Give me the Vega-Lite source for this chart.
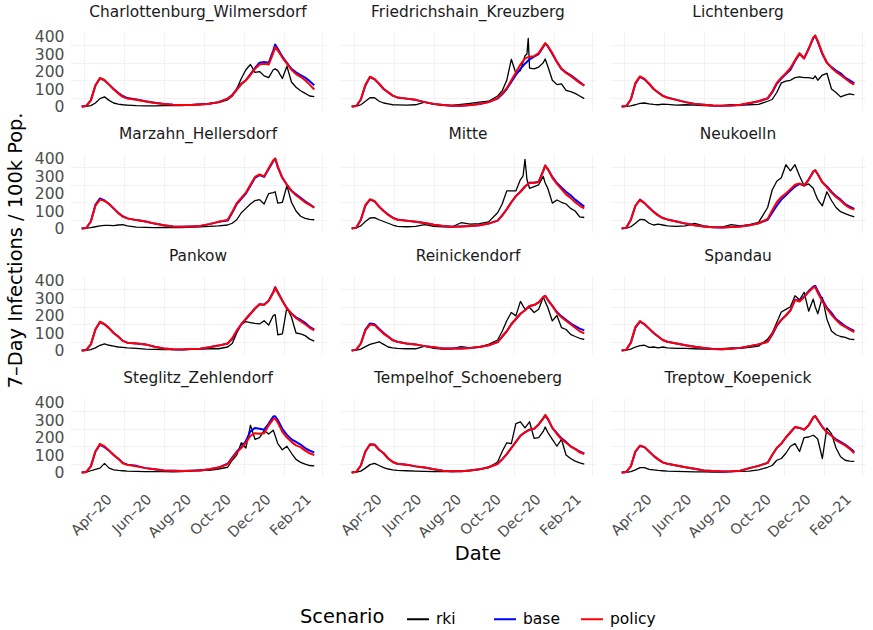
{
  "$schema": "https://vega.github.io/schema/vega-lite/v6.json",
  "background": "white",
  "padding": {"left": 5, "top": 5, "right": 0, "bottom": 5},
  "config": {
    "font": "DejaVu Sans",
    "view": {"stroke": null},
    "axis": {
      "domain": false,
      "ticks": false,
      "labelColor": "#4D4D4D",
      "labelFontSize": 15.6,
      "labelFont": "DejaVu Sans",
      "gridColor": "#EBEBEB",
      "labelOverlap": false
    },
    "header": {
      "labelFontSize": 15.4,
      "labelColor": "#1A1A1A",
      "labelFont": "DejaVu Sans",
      "labelPadding": 11.5
    },
    "title": {"fontSize": 19.4, "fontWeight": "normal", "color": "#000000", "font": "DejaVu Sans"},
    "legend": {
      "titleFontSize": 19.4,
      "titleFontWeight": "normal",
      "titleColor": "#000000",
      "titleFont": "DejaVu Sans",
      "labelFontSize": 15.5,
      "labelColor": "#000000",
      "labelFont": "DejaVu Sans",
      "symbolType": "stroke",
      "symbolStrokeWidth": 2,
      "symbolSize": 484,
      "labelOffset": 6,
      "padding": 0
    }
  },
  "data": {"values": [
    {"district":"Charlottenburg_Wilmersdorf","date":"2020-02-26","rki":0,"base":0,"policy":0},
    {"district":"Charlottenburg_Wilmersdorf","date":"2020-03-04","rki":1,"base":3,"policy":3},
    {"district":"Charlottenburg_Wilmersdorf","date":"2020-03-11","rki":5,"base":35,"policy":35},
    {"district":"Charlottenburg_Wilmersdorf","date":"2020-03-18","rki":20,"base":120,"policy":120},
    {"district":"Charlottenburg_Wilmersdorf","date":"2020-03-25","rki":45,"base":162,"policy":163},
    {"district":"Charlottenburg_Wilmersdorf","date":"2020-04-01","rki":55,"base":150,"policy":150},
    {"district":"Charlottenburg_Wilmersdorf","date":"2020-04-08","rki":35,"base":125,"policy":125},
    {"district":"Charlottenburg_Wilmersdorf","date":"2020-04-15","rki":20,"base":100,"policy":98},
    {"district":"Charlottenburg_Wilmersdorf","date":"2020-04-22","rki":14,"base":78,"policy":75},
    {"district":"Charlottenburg_Wilmersdorf","date":"2020-04-29","rki":10,"base":60,"policy":55},
    {"district":"Charlottenburg_Wilmersdorf","date":"2020-05-06","rki":8,"base":48,"policy":45},
    {"district":"Charlottenburg_Wilmersdorf","date":"2020-05-20","rki":5,"base":40,"policy":38},
    {"district":"Charlottenburg_Wilmersdorf","date":"2020-06-03","rki":4,"base":30,"policy":28},
    {"district":"Charlottenburg_Wilmersdorf","date":"2020-06-17","rki":4,"base":22,"policy":20},
    {"district":"Charlottenburg_Wilmersdorf","date":"2020-07-01","rki":5,"base":15,"policy":14},
    {"district":"Charlottenburg_Wilmersdorf","date":"2020-07-15","rki":6,"base":10,"policy":10},
    {"district":"Charlottenburg_Wilmersdorf","date":"2020-07-29","rki":5,"base":8,"policy":8},
    {"district":"Charlottenburg_Wilmersdorf","date":"2020-08-12","rki":10,"base":9,"policy":9},
    {"district":"Charlottenburg_Wilmersdorf","date":"2020-08-26","rki":14,"base":12,"policy":12},
    {"district":"Charlottenburg_Wilmersdorf","date":"2020-09-09","rki":18,"base":16,"policy":16},
    {"district":"Charlottenburg_Wilmersdorf","date":"2020-09-23","rki":22,"base":25,"policy":25},
    {"district":"Charlottenburg_Wilmersdorf","date":"2020-10-07","rki":38,"base":45,"policy":45},
    {"district":"Charlottenburg_Wilmersdorf","date":"2020-10-14","rki":60,"base":65,"policy":62},
    {"district":"Charlottenburg_Wilmersdorf","date":"2020-10-21","rki":100,"base":100,"policy":95},
    {"district":"Charlottenburg_Wilmersdorf","date":"2020-10-28","rki":160,"base":130,"policy":128},
    {"district":"Charlottenburg_Wilmersdorf","date":"2020-11-04","rki":210,"base":150,"policy":150},
    {"district":"Charlottenburg_Wilmersdorf","date":"2020-11-11","rki":240,"base":185,"policy":180},
    {"district":"Charlottenburg_Wilmersdorf","date":"2020-11-18","rki":195,"base":220,"policy":215},
    {"district":"Charlottenburg_Wilmersdorf","date":"2020-11-25","rki":200,"base":250,"policy":240},
    {"district":"Charlottenburg_Wilmersdorf","date":"2020-12-02","rki":175,"base":255,"policy":245},
    {"district":"Charlottenburg_Wilmersdorf","date":"2020-12-09","rki":165,"base":250,"policy":240},
    {"district":"Charlottenburg_Wilmersdorf","date":"2020-12-16","rki":210,"base":320,"policy":305},
    {"district":"Charlottenburg_Wilmersdorf","date":"2020-12-19","rki":215,"base":355,"policy":340},
    {"district":"Charlottenburg_Wilmersdorf","date":"2020-12-23","rki":205,"base":330,"policy":320},
    {"district":"Charlottenburg_Wilmersdorf","date":"2020-12-30","rki":160,"base":285,"policy":280},
    {"district":"Charlottenburg_Wilmersdorf","date":"2021-01-06","rki":230,"base":250,"policy":245},
    {"district":"Charlottenburg_Wilmersdorf","date":"2021-01-13","rki":140,"base":215,"policy":210},
    {"district":"Charlottenburg_Wilmersdorf","date":"2021-01-20","rki":110,"base":195,"policy":185},
    {"district":"Charlottenburg_Wilmersdorf","date":"2021-01-27","rki":90,"base":180,"policy":170},
    {"district":"Charlottenburg_Wilmersdorf","date":"2021-02-03","rki":75,"base":165,"policy":150},
    {"district":"Charlottenburg_Wilmersdorf","date":"2021-02-10","rki":60,"base":145,"policy":125},
    {"district":"Charlottenburg_Wilmersdorf","date":"2021-02-17","rki":57,"base":122,"policy":97},

    {"district":"Friedrichshain_Kreuzberg","date":"2020-02-26","rki":0,"base":0,"policy":0},
    {"district":"Friedrichshain_Kreuzberg","date":"2020-03-04","rki":2,"base":3,"policy":3},
    {"district":"Friedrichshain_Kreuzberg","date":"2020-03-11","rki":10,"base":40,"policy":40},
    {"district":"Friedrichshain_Kreuzberg","date":"2020-03-18","rki":30,"base":120,"policy":125},
    {"district":"Friedrichshain_Kreuzberg","date":"2020-03-25","rki":50,"base":168,"policy":170},
    {"district":"Friedrichshain_Kreuzberg","date":"2020-04-01","rki":50,"base":155,"policy":158},
    {"district":"Friedrichshain_Kreuzberg","date":"2020-04-08","rki":30,"base":130,"policy":130},
    {"district":"Friedrichshain_Kreuzberg","date":"2020-04-15","rki":20,"base":100,"policy":100},
    {"district":"Friedrichshain_Kreuzberg","date":"2020-04-22","rki":15,"base":80,"policy":82},
    {"district":"Friedrichshain_Kreuzberg","date":"2020-04-29","rki":10,"base":62,"policy":62},
    {"district":"Friedrichshain_Kreuzberg","date":"2020-05-06","rki":9,"base":52,"policy":52},
    {"district":"Friedrichshain_Kreuzberg","date":"2020-05-20","rki":8,"base":45,"policy":45},
    {"district":"Friedrichshain_Kreuzberg","date":"2020-06-03","rki":10,"base":38,"policy":38},
    {"district":"Friedrichshain_Kreuzberg","date":"2020-06-17","rki":25,"base":25,"policy":25},
    {"district":"Friedrichshain_Kreuzberg","date":"2020-07-01","rki":12,"base":15,"policy":15},
    {"district":"Friedrichshain_Kreuzberg","date":"2020-07-15","rki":8,"base":8,"policy":8},
    {"district":"Friedrichshain_Kreuzberg","date":"2020-07-29","rki":7,"base":5,"policy":5},
    {"district":"Friedrichshain_Kreuzberg","date":"2020-08-12","rki":12,"base":5,"policy":5},
    {"district":"Friedrichshain_Kreuzberg","date":"2020-08-26","rki":18,"base":9,"policy":9},
    {"district":"Friedrichshain_Kreuzberg","date":"2020-09-09","rki":25,"base":14,"policy":14},
    {"district":"Friedrichshain_Kreuzberg","date":"2020-09-23","rki":30,"base":25,"policy":25},
    {"district":"Friedrichshain_Kreuzberg","date":"2020-10-07","rki":60,"base":45,"policy":48},
    {"district":"Friedrichshain_Kreuzberg","date":"2020-10-14","rki":90,"base":70,"policy":75},
    {"district":"Friedrichshain_Kreuzberg","date":"2020-10-21","rki":150,"base":100,"policy":105},
    {"district":"Friedrichshain_Kreuzberg","date":"2020-10-28","rki":270,"base":140,"policy":150},
    {"district":"Friedrichshain_Kreuzberg","date":"2020-11-04","rki":190,"base":180,"policy":195},
    {"district":"Friedrichshain_Kreuzberg","date":"2020-11-11","rki":205,"base":215,"policy":240},
    {"district":"Friedrichshain_Kreuzberg","date":"2020-11-18","rki":290,"base":245,"policy":275},
    {"district":"Friedrichshain_Kreuzberg","date":"2020-11-21","rki":300},
    {"district":"Friedrichshain_Kreuzberg","date":"2020-11-23","rki":390},
    {"district":"Friedrichshain_Kreuzberg","date":"2020-11-25","rki":220,"base":270,"policy":285},
    {"district":"Friedrichshain_Kreuzberg","date":"2020-12-02","rki":215,"base":285,"policy":288},
    {"district":"Friedrichshain_Kreuzberg","date":"2020-12-09","rki":225,"base":300,"policy":305},
    {"district":"Friedrichshain_Kreuzberg","date":"2020-12-16","rki":250,"base":340,"policy":345},
    {"district":"Friedrichshain_Kreuzberg","date":"2020-12-19","rki":272,"base":360,"policy":362},
    {"district":"Friedrichshain_Kreuzberg","date":"2020-12-23","rki":230,"base":345,"policy":345},
    {"district":"Friedrichshain_Kreuzberg","date":"2020-12-30","rki":150,"base":300,"policy":305},
    {"district":"Friedrichshain_Kreuzberg","date":"2021-01-06","rki":125,"base":255,"policy":255},
    {"district":"Friedrichshain_Kreuzberg","date":"2021-01-13","rki":130,"base":215,"policy":215},
    {"district":"Friedrichshain_Kreuzberg","date":"2021-01-20","rki":92,"base":195,"policy":192},
    {"district":"Friedrichshain_Kreuzberg","date":"2021-01-27","rki":85,"base":180,"policy":175},
    {"district":"Friedrichshain_Kreuzberg","date":"2021-02-03","rki":75,"base":160,"policy":155},
    {"district":"Friedrichshain_Kreuzberg","date":"2021-02-10","rki":60,"base":140,"policy":135},
    {"district":"Friedrichshain_Kreuzberg","date":"2021-02-17","rki":45,"base":120,"policy":120},

    {"district":"Lichtenberg","date":"2020-02-26","rki":0,"base":0,"policy":0},
    {"district":"Lichtenberg","date":"2020-03-04","rki":1,"base":3,"policy":3},
    {"district":"Lichtenberg","date":"2020-03-11","rki":4,"base":40,"policy":40},
    {"district":"Lichtenberg","date":"2020-03-18","rki":10,"base":130,"policy":135},
    {"district":"Lichtenberg","date":"2020-03-25","rki":18,"base":170,"policy":172},
    {"district":"Lichtenberg","date":"2020-04-01","rki":20,"base":155,"policy":158},
    {"district":"Lichtenberg","date":"2020-04-08","rki":15,"base":130,"policy":130},
    {"district":"Lichtenberg","date":"2020-04-15","rki":12,"base":100,"policy":100},
    {"district":"Lichtenberg","date":"2020-04-22","rki":10,"base":80,"policy":80},
    {"district":"Lichtenberg","date":"2020-04-29","rki":14,"base":62,"policy":60},
    {"district":"Lichtenberg","date":"2020-05-06","rki":12,"base":52,"policy":50},
    {"district":"Lichtenberg","date":"2020-05-20","rki":8,"base":38,"policy":38},
    {"district":"Lichtenberg","date":"2020-06-03","rki":10,"base":25,"policy":25},
    {"district":"Lichtenberg","date":"2020-06-17","rki":8,"base":15,"policy":15},
    {"district":"Lichtenberg","date":"2020-07-01","rki":5,"base":10,"policy":10},
    {"district":"Lichtenberg","date":"2020-07-15","rki":4,"base":6,"policy":6},
    {"district":"Lichtenberg","date":"2020-07-29","rki":5,"base":5,"policy":5},
    {"district":"Lichtenberg","date":"2020-08-12","rki":10,"base":6,"policy":6},
    {"district":"Lichtenberg","date":"2020-08-26","rki":8,"base":9,"policy":10},
    {"district":"Lichtenberg","date":"2020-09-09","rki":10,"base":18,"policy":20},
    {"district":"Lichtenberg","date":"2020-09-23","rki":12,"base":30,"policy":30},
    {"district":"Lichtenberg","date":"2020-10-07","rki":30,"base":45,"policy":48},
    {"district":"Lichtenberg","date":"2020-10-14","rki":40,"base":80,"policy":85},
    {"district":"Lichtenberg","date":"2020-10-21","rki":80,"base":130,"policy":135},
    {"district":"Lichtenberg","date":"2020-10-28","rki":135,"base":160,"policy":165},
    {"district":"Lichtenberg","date":"2020-11-04","rki":145,"base":185,"policy":190},
    {"district":"Lichtenberg","date":"2020-11-11","rki":150,"base":210,"policy":220},
    {"district":"Lichtenberg","date":"2020-11-18","rki":165,"base":260,"policy":265},
    {"district":"Lichtenberg","date":"2020-11-25","rki":170,"base":300,"policy":305},
    {"district":"Lichtenberg","date":"2020-12-02","rki":165,"base":275,"policy":275},
    {"district":"Lichtenberg","date":"2020-12-09","rki":165,"base":330,"policy":330},
    {"district":"Lichtenberg","date":"2020-12-16","rki":160,"base":390,"policy":395},
    {"district":"Lichtenberg","date":"2020-12-19","rki":175,"base":405,"policy":405},
    {"district":"Lichtenberg","date":"2020-12-23","rki":150,"base":370,"policy":375},
    {"district":"Lichtenberg","date":"2020-12-30","rki":180,"base":300,"policy":305},
    {"district":"Lichtenberg","date":"2021-01-06","rki":190,"base":250,"policy":250},
    {"district":"Lichtenberg","date":"2021-01-13","rki":100,"base":225,"policy":222},
    {"district":"Lichtenberg","date":"2021-01-20","rki":80,"base":205,"policy":198},
    {"district":"Lichtenberg","date":"2021-01-27","rki":55,"base":190,"policy":180},
    {"district":"Lichtenberg","date":"2021-02-03","rki":65,"base":165,"policy":160},
    {"district":"Lichtenberg","date":"2021-02-10","rki":72,"base":150,"policy":140},
    {"district":"Lichtenberg","date":"2021-02-17","rki":67,"base":132,"policy":125},

    {"district":"Marzahn_Hellersdorf","date":"2020-02-26","rki":0,"base":0,"policy":0},
    {"district":"Marzahn_Hellersdorf","date":"2020-03-04","rki":2,"base":3,"policy":3},
    {"district":"Marzahn_Hellersdorf","date":"2020-03-11","rki":5,"base":40,"policy":40},
    {"district":"Marzahn_Hellersdorf","date":"2020-03-18","rki":10,"base":135,"policy":130},
    {"district":"Marzahn_Hellersdorf","date":"2020-03-25","rki":15,"base":172,"policy":165},
    {"district":"Marzahn_Hellersdorf","date":"2020-04-01","rki":18,"base":160,"policy":158},
    {"district":"Marzahn_Hellersdorf","date":"2020-04-08","rki":18,"base":140,"policy":140},
    {"district":"Marzahn_Hellersdorf","date":"2020-04-15","rki":16,"base":115,"policy":115},
    {"district":"Marzahn_Hellersdorf","date":"2020-04-22","rki":20,"base":90,"policy":88},
    {"district":"Marzahn_Hellersdorf","date":"2020-04-29","rki":22,"base":70,"policy":68},
    {"district":"Marzahn_Hellersdorf","date":"2020-05-06","rki":15,"base":58,"policy":58},
    {"district":"Marzahn_Hellersdorf","date":"2020-05-20","rki":8,"base":48,"policy":48},
    {"district":"Marzahn_Hellersdorf","date":"2020-06-03","rki":6,"base":40,"policy":40},
    {"district":"Marzahn_Hellersdorf","date":"2020-06-17","rki":5,"base":28,"policy":28},
    {"district":"Marzahn_Hellersdorf","date":"2020-07-01","rki":6,"base":18,"policy":18},
    {"district":"Marzahn_Hellersdorf","date":"2020-07-15","rki":5,"base":12,"policy":12},
    {"district":"Marzahn_Hellersdorf","date":"2020-07-29","rki":5,"base":10,"policy":10},
    {"district":"Marzahn_Hellersdorf","date":"2020-08-12","rki":8,"base":12,"policy":12},
    {"district":"Marzahn_Hellersdorf","date":"2020-08-26","rki":10,"base":15,"policy":15},
    {"district":"Marzahn_Hellersdorf","date":"2020-09-09","rki":12,"base":25,"policy":25},
    {"district":"Marzahn_Hellersdorf","date":"2020-09-23","rki":15,"base":38,"policy":38},
    {"district":"Marzahn_Hellersdorf","date":"2020-10-07","rki":20,"base":45,"policy":50},
    {"district":"Marzahn_Hellersdorf","date":"2020-10-14","rki":30,"base":90,"policy":95},
    {"district":"Marzahn_Hellersdorf","date":"2020-10-21","rki":50,"base":140,"policy":145},
    {"district":"Marzahn_Hellersdorf","date":"2020-10-28","rki":90,"base":170,"policy":175},
    {"district":"Marzahn_Hellersdorf","date":"2020-11-04","rki":115,"base":200,"policy":205},
    {"district":"Marzahn_Hellersdorf","date":"2020-11-11","rki":140,"base":245,"policy":250},
    {"district":"Marzahn_Hellersdorf","date":"2020-11-18","rki":160,"base":290,"policy":295},
    {"district":"Marzahn_Hellersdorf","date":"2020-11-25","rki":165,"base":305,"policy":310},
    {"district":"Marzahn_Hellersdorf","date":"2020-12-02","rki":140,"base":295,"policy":298},
    {"district":"Marzahn_Hellersdorf","date":"2020-12-09","rki":200,"base":340,"policy":345},
    {"district":"Marzahn_Hellersdorf","date":"2020-12-16","rki":205,"base":385,"policy":390},
    {"district":"Marzahn_Hellersdorf","date":"2020-12-19","rki":210,"base":400,"policy":400},
    {"district":"Marzahn_Hellersdorf","date":"2020-12-23","rki":145,"base":350,"policy":355},
    {"district":"Marzahn_Hellersdorf","date":"2020-12-30","rki":150,"base":290,"policy":290},
    {"district":"Marzahn_Hellersdorf","date":"2021-01-06","rki":245,"base":250,"policy":250},
    {"district":"Marzahn_Hellersdorf","date":"2021-01-13","rki":150,"base":215,"policy":215},
    {"district":"Marzahn_Hellersdorf","date":"2021-01-20","rki":100,"base":195,"policy":190},
    {"district":"Marzahn_Hellersdorf","date":"2021-01-27","rki":70,"base":175,"policy":170},
    {"district":"Marzahn_Hellersdorf","date":"2021-02-03","rki":58,"base":155,"policy":150},
    {"district":"Marzahn_Hellersdorf","date":"2021-02-10","rki":52,"base":138,"policy":135},
    {"district":"Marzahn_Hellersdorf","date":"2021-02-17","rki":50,"base":120,"policy":120},

    {"district":"Mitte","date":"2020-02-26","rki":0,"base":0,"policy":0},
    {"district":"Mitte","date":"2020-03-04","rki":3,"base":5,"policy":5},
    {"district":"Mitte","date":"2020-03-11","rki":15,"base":50,"policy":50},
    {"district":"Mitte","date":"2020-03-18","rki":40,"base":130,"policy":135},
    {"district":"Mitte","date":"2020-03-25","rki":60,"base":165,"policy":167},
    {"district":"Mitte","date":"2020-04-01","rki":62,"base":155,"policy":158},
    {"district":"Mitte","date":"2020-04-08","rki":50,"base":125,"policy":125},
    {"district":"Mitte","date":"2020-04-15","rki":40,"base":100,"policy":100},
    {"district":"Mitte","date":"2020-04-22","rki":30,"base":80,"policy":78},
    {"district":"Mitte","date":"2020-04-29","rki":20,"base":62,"policy":60},
    {"district":"Mitte","date":"2020-05-06","rki":12,"base":52,"policy":50},
    {"district":"Mitte","date":"2020-05-20","rki":10,"base":45,"policy":45},
    {"district":"Mitte","date":"2020-06-03","rki":12,"base":38,"policy":38},
    {"district":"Mitte","date":"2020-06-17","rki":22,"base":32,"policy":32},
    {"district":"Mitte","date":"2020-07-01","rki":12,"base":22,"policy":22},
    {"district":"Mitte","date":"2020-07-15","rki":10,"base":14,"policy":14},
    {"district":"Mitte","date":"2020-07-29","rki":10,"base":10,"policy":10},
    {"district":"Mitte","date":"2020-08-12","rki":33,"base":12,"policy":12},
    {"district":"Mitte","date":"2020-08-26","rki":25,"base":15,"policy":15},
    {"district":"Mitte","date":"2020-09-09","rki":28,"base":18,"policy":18},
    {"district":"Mitte","date":"2020-09-23","rki":38,"base":28,"policy":28},
    {"district":"Mitte","date":"2020-10-07","rki":90,"base":45,"policy":45},
    {"district":"Mitte","date":"2020-10-14","rki":140,"base":75,"policy":75},
    {"district":"Mitte","date":"2020-10-21","rki":215,"base":110,"policy":110},
    {"district":"Mitte","date":"2020-10-28","rki":215,"base":150,"policy":150},
    {"district":"Mitte","date":"2020-11-04","rki":215,"base":185,"policy":185},
    {"district":"Mitte","date":"2020-11-11","rki":280,"base":210,"policy":210},
    {"district":"Mitte","date":"2020-11-15","rki":300},
    {"district":"Mitte","date":"2020-11-18","rki":395,"base":240,"policy":240},
    {"district":"Mitte","date":"2020-11-21","rki":280},
    {"district":"Mitte","date":"2020-11-25","rki":230,"base":262,"policy":262},
    {"district":"Mitte","date":"2020-12-02","rki":240,"base":262,"policy":262},
    {"district":"Mitte","date":"2020-12-09","rki":250,"base":268,"policy":265},
    {"district":"Mitte","date":"2020-12-16","rki":298,"base":330,"policy":330},
    {"district":"Mitte","date":"2020-12-19","rki":260,"base":360,"policy":360},
    {"district":"Mitte","date":"2020-12-23","rki":230,"base":340,"policy":340},
    {"district":"Mitte","date":"2020-12-30","rki":145,"base":295,"policy":290},
    {"district":"Mitte","date":"2021-01-06","rki":163,"base":260,"policy":255},
    {"district":"Mitte","date":"2021-01-13","rki":150,"base":235,"policy":225},
    {"district":"Mitte","date":"2021-01-20","rki":140,"base":210,"policy":195},
    {"district":"Mitte","date":"2021-01-27","rki":115,"base":190,"policy":175},
    {"district":"Mitte","date":"2021-02-03","rki":100,"base":165,"policy":150},
    {"district":"Mitte","date":"2021-02-10","rki":67,"base":145,"policy":130},
    {"district":"Mitte","date":"2021-02-17","rki":63,"base":125,"policy":115},

    {"district":"Neukoelln","date":"2020-02-26","rki":0,"base":0,"policy":0},
    {"district":"Neukoelln","date":"2020-03-04","rki":2,"base":5,"policy":5},
    {"district":"Neukoelln","date":"2020-03-11","rki":10,"base":50,"policy":50},
    {"district":"Neukoelln","date":"2020-03-18","rki":30,"base":130,"policy":130},
    {"district":"Neukoelln","date":"2020-03-25","rki":52,"base":165,"policy":163},
    {"district":"Neukoelln","date":"2020-04-01","rki":50,"base":145,"policy":145},
    {"district":"Neukoelln","date":"2020-04-08","rki":30,"base":120,"policy":118},
    {"district":"Neukoelln","date":"2020-04-15","rki":20,"base":95,"policy":95},
    {"district":"Neukoelln","date":"2020-04-22","rki":25,"base":75,"policy":75},
    {"district":"Neukoelln","date":"2020-04-29","rki":20,"base":60,"policy":60},
    {"district":"Neukoelln","date":"2020-05-06","rki":15,"base":52,"policy":52},
    {"district":"Neukoelln","date":"2020-05-20","rki":12,"base":40,"policy":40},
    {"district":"Neukoelln","date":"2020-06-03","rki":15,"base":28,"policy":28},
    {"district":"Neukoelln","date":"2020-06-17","rki":30,"base":19,"policy":19},
    {"district":"Neukoelln","date":"2020-07-01","rki":15,"base":12,"policy":12},
    {"district":"Neukoelln","date":"2020-07-15","rki":8,"base":7,"policy":7},
    {"district":"Neukoelln","date":"2020-07-29","rki":8,"base":6,"policy":6},
    {"district":"Neukoelln","date":"2020-08-12","rki":22,"base":8,"policy":8},
    {"district":"Neukoelln","date":"2020-08-26","rki":15,"base":12,"policy":12},
    {"district":"Neukoelln","date":"2020-09-09","rki":22,"base":18,"policy":18},
    {"district":"Neukoelln","date":"2020-09-23","rki":35,"base":30,"policy":30},
    {"district":"Neukoelln","date":"2020-10-07","rki":120,"base":50,"policy":55},
    {"district":"Neukoelln","date":"2020-10-14","rki":220,"base":90,"policy":105},
    {"district":"Neukoelln","date":"2020-10-21","rki":270,"base":130,"policy":150},
    {"district":"Neukoelln","date":"2020-10-28","rki":290,"base":165,"policy":180},
    {"district":"Neukoelln","date":"2020-11-04","rki":365,"base":190,"policy":200},
    {"district":"Neukoelln","date":"2020-11-11","rki":330,"base":215,"policy":225},
    {"district":"Neukoelln","date":"2020-11-18","rki":365,"base":240,"policy":250},
    {"district":"Neukoelln","date":"2020-11-25","rki":300,"base":255,"policy":258},
    {"district":"Neukoelln","date":"2020-12-02","rki":245,"base":245,"policy":245},
    {"district":"Neukoelln","date":"2020-12-09","rki":255,"base":280,"policy":280},
    {"district":"Neukoelln","date":"2020-12-16","rki":230,"base":325,"policy":325},
    {"district":"Neukoelln","date":"2020-12-19","rki":200,"base":333,"policy":333},
    {"district":"Neukoelln","date":"2020-12-23","rki":165,"base":310,"policy":310},
    {"district":"Neukoelln","date":"2020-12-30","rki":130,"base":265,"policy":265},
    {"district":"Neukoelln","date":"2021-01-06","rki":210,"base":240,"policy":235},
    {"district":"Neukoelln","date":"2021-01-13","rki":160,"base":210,"policy":205},
    {"district":"Neukoelln","date":"2021-01-20","rki":120,"base":185,"policy":180},
    {"district":"Neukoelln","date":"2021-01-27","rki":96,"base":165,"policy":160},
    {"district":"Neukoelln","date":"2021-02-03","rki":85,"base":140,"policy":135},
    {"district":"Neukoelln","date":"2021-02-10","rki":75,"base":125,"policy":118},
    {"district":"Neukoelln","date":"2021-02-17","rki":67,"base":112,"policy":108},

    {"district":"Pankow","date":"2020-02-26","rki":0,"base":0,"policy":0},
    {"district":"Pankow","date":"2020-03-04","rki":1,"base":3,"policy":3},
    {"district":"Pankow","date":"2020-03-11","rki":5,"base":35,"policy":35},
    {"district":"Pankow","date":"2020-03-18","rki":15,"base":120,"policy":120},
    {"district":"Pankow","date":"2020-03-25","rki":30,"base":163,"policy":165},
    {"district":"Pankow","date":"2020-04-01","rki":38,"base":150,"policy":150},
    {"district":"Pankow","date":"2020-04-08","rki":30,"base":128,"policy":128},
    {"district":"Pankow","date":"2020-04-15","rki":25,"base":100,"policy":100},
    {"district":"Pankow","date":"2020-04-22","rki":20,"base":80,"policy":80},
    {"district":"Pankow","date":"2020-04-29","rki":18,"base":55,"policy":55},
    {"district":"Pankow","date":"2020-05-06","rki":15,"base":45,"policy":45},
    {"district":"Pankow","date":"2020-05-20","rki":12,"base":40,"policy":40},
    {"district":"Pankow","date":"2020-06-03","rki":8,"base":35,"policy":35},
    {"district":"Pankow","date":"2020-06-17","rki":6,"base":22,"policy":22},
    {"district":"Pankow","date":"2020-07-01","rki":5,"base":12,"policy":12},
    {"district":"Pankow","date":"2020-07-15","rki":5,"base":7,"policy":7},
    {"district":"Pankow","date":"2020-07-29","rki":5,"base":6,"policy":6},
    {"district":"Pankow","date":"2020-08-12","rki":6,"base":8,"policy":8},
    {"district":"Pankow","date":"2020-08-26","rki":8,"base":10,"policy":10},
    {"district":"Pankow","date":"2020-09-09","rki":10,"base":18,"policy":18},
    {"district":"Pankow","date":"2020-09-23","rki":10,"base":28,"policy":28},
    {"district":"Pankow","date":"2020-10-07","rki":20,"base":40,"policy":40},
    {"district":"Pankow","date":"2020-10-14","rki":40,"base":65,"policy":70},
    {"district":"Pankow","date":"2020-10-21","rki":100,"base":110,"policy":115},
    {"district":"Pankow","date":"2020-10-28","rki":150,"base":150,"policy":150},
    {"district":"Pankow","date":"2020-11-04","rki":165,"base":180,"policy":180},
    {"district":"Pankow","date":"2020-11-11","rki":160,"base":210,"policy":210},
    {"district":"Pankow","date":"2020-11-18","rki":155,"base":240,"policy":240},
    {"district":"Pankow","date":"2020-11-25","rki":152,"base":265,"policy":265},
    {"district":"Pankow","date":"2020-12-02","rki":170,"base":262,"policy":262},
    {"district":"Pankow","date":"2020-12-09","rki":145,"base":285,"policy":285},
    {"district":"Pankow","date":"2020-12-16","rki":200,"base":335,"policy":330},
    {"district":"Pankow","date":"2020-12-19","rki":205,"base":362,"policy":360},
    {"district":"Pankow","date":"2020-12-23","rki":90,"base":335,"policy":330},
    {"district":"Pankow","date":"2020-12-30","rki":95,"base":285,"policy":285},
    {"district":"Pankow","date":"2021-01-06","rki":246,"base":240,"policy":240},
    {"district":"Pankow","date":"2021-01-13","rki":190,"base":212,"policy":210},
    {"district":"Pankow","date":"2021-01-20","rki":100,"base":190,"policy":185},
    {"district":"Pankow","date":"2021-01-27","rki":95,"base":175,"policy":168},
    {"district":"Pankow","date":"2021-02-03","rki":85,"base":158,"policy":150},
    {"district":"Pankow","date":"2021-02-10","rki":65,"base":135,"policy":130},
    {"district":"Pankow","date":"2021-02-17","rki":54,"base":120,"policy":115},

    {"district":"Reinickendorf","date":"2020-02-26","rki":0,"base":0,"policy":0},
    {"district":"Reinickendorf","date":"2020-03-04","rki":2,"base":5,"policy":5},
    {"district":"Reinickendorf","date":"2020-03-11","rki":8,"base":40,"policy":40},
    {"district":"Reinickendorf","date":"2020-03-18","rki":22,"base":120,"policy":115},
    {"district":"Reinickendorf","date":"2020-03-25","rki":35,"base":155,"policy":148},
    {"district":"Reinickendorf","date":"2020-04-01","rki":42,"base":150,"policy":145},
    {"district":"Reinickendorf","date":"2020-04-08","rki":50,"base":125,"policy":120},
    {"district":"Reinickendorf","date":"2020-04-15","rki":35,"base":100,"policy":95},
    {"district":"Reinickendorf","date":"2020-04-22","rki":20,"base":80,"policy":78},
    {"district":"Reinickendorf","date":"2020-04-29","rki":15,"base":60,"policy":58},
    {"district":"Reinickendorf","date":"2020-05-06","rki":12,"base":50,"policy":50},
    {"district":"Reinickendorf","date":"2020-05-20","rki":10,"base":40,"policy":40},
    {"district":"Reinickendorf","date":"2020-06-03","rki":10,"base":35,"policy":35},
    {"district":"Reinickendorf","date":"2020-06-17","rki":25,"base":25,"policy":25},
    {"district":"Reinickendorf","date":"2020-07-01","rki":12,"base":18,"policy":18},
    {"district":"Reinickendorf","date":"2020-07-15","rki":8,"base":12,"policy":12},
    {"district":"Reinickendorf","date":"2020-07-29","rki":10,"base":12,"policy":12},
    {"district":"Reinickendorf","date":"2020-08-12","rki":22,"base":12,"policy":12},
    {"district":"Reinickendorf","date":"2020-08-26","rki":15,"base":15,"policy":15},
    {"district":"Reinickendorf","date":"2020-09-09","rki":20,"base":20,"policy":20},
    {"district":"Reinickendorf","date":"2020-09-23","rki":35,"base":30,"policy":30},
    {"district":"Reinickendorf","date":"2020-10-07","rki":60,"base":48,"policy":48},
    {"district":"Reinickendorf","date":"2020-10-14","rki":110,"base":80,"policy":80},
    {"district":"Reinickendorf","date":"2020-10-21","rki":170,"base":110,"policy":110},
    {"district":"Reinickendorf","date":"2020-10-28","rki":217,"base":150,"policy":150},
    {"district":"Reinickendorf","date":"2020-11-04","rki":198,"base":180,"policy":180},
    {"district":"Reinickendorf","date":"2020-11-11","rki":281,"base":210,"policy":210},
    {"district":"Reinickendorf","date":"2020-11-18","rki":236,"base":230,"policy":230},
    {"district":"Reinickendorf","date":"2020-11-25","rki":246,"base":255,"policy":255},
    {"district":"Reinickendorf","date":"2020-12-02","rki":217,"base":260,"policy":260},
    {"district":"Reinickendorf","date":"2020-12-09","rki":236,"base":275,"policy":275},
    {"district":"Reinickendorf","date":"2020-12-16","rki":304,"base":305,"policy":305},
    {"district":"Reinickendorf","date":"2020-12-19","rki":280,"base":313,"policy":313},
    {"district":"Reinickendorf","date":"2020-12-23","rki":246,"base":290,"policy":290},
    {"district":"Reinickendorf","date":"2020-12-30","rki":169,"base":255,"policy":255},
    {"district":"Reinickendorf","date":"2021-01-06","rki":200,"base":220,"policy":215},
    {"district":"Reinickendorf","date":"2021-01-13","rki":131,"base":195,"policy":190},
    {"district":"Reinickendorf","date":"2021-01-20","rki":120,"base":175,"policy":170},
    {"district":"Reinickendorf","date":"2021-01-27","rki":92,"base":155,"policy":150},
    {"district":"Reinickendorf","date":"2021-02-03","rki":80,"base":140,"policy":130},
    {"district":"Reinickendorf","date":"2021-02-10","rki":70,"base":125,"policy":110},
    {"district":"Reinickendorf","date":"2021-02-17","rki":63,"base":115,"policy":98},

    {"district":"Spandau","date":"2020-02-26","rki":0,"base":0,"policy":0},
    {"district":"Spandau","date":"2020-03-04","rki":2,"base":4,"policy":4},
    {"district":"Spandau","date":"2020-03-11","rki":8,"base":45,"policy":45},
    {"district":"Spandau","date":"2020-03-18","rki":20,"base":130,"policy":135},
    {"district":"Spandau","date":"2020-03-25","rki":28,"base":165,"policy":168},
    {"district":"Spandau","date":"2020-04-01","rki":30,"base":150,"policy":150},
    {"district":"Spandau","date":"2020-04-08","rki":18,"base":125,"policy":125},
    {"district":"Spandau","date":"2020-04-15","rki":20,"base":100,"policy":100},
    {"district":"Spandau","date":"2020-04-22","rki":15,"base":80,"policy":80},
    {"district":"Spandau","date":"2020-04-29","rki":20,"base":60,"policy":60},
    {"district":"Spandau","date":"2020-05-06","rki":15,"base":50,"policy":50},
    {"district":"Spandau","date":"2020-05-20","rki":12,"base":40,"policy":40},
    {"district":"Spandau","date":"2020-06-03","rki":12,"base":30,"policy":30},
    {"district":"Spandau","date":"2020-06-17","rki":10,"base":22,"policy":22},
    {"district":"Spandau","date":"2020-07-01","rki":8,"base":15,"policy":15},
    {"district":"Spandau","date":"2020-07-15","rki":8,"base":8,"policy":8},
    {"district":"Spandau","date":"2020-07-29","rki":10,"base":7,"policy":7},
    {"district":"Spandau","date":"2020-08-12","rki":15,"base":10,"policy":10},
    {"district":"Spandau","date":"2020-08-26","rki":12,"base":15,"policy":15},
    {"district":"Spandau","date":"2020-09-09","rki":18,"base":25,"policy":25},
    {"district":"Spandau","date":"2020-09-23","rki":25,"base":35,"policy":35},
    {"district":"Spandau","date":"2020-10-07","rki":65,"base":50,"policy":50},
    {"district":"Spandau","date":"2020-10-14","rki":100,"base":90,"policy":95},
    {"district":"Spandau","date":"2020-10-21","rki":160,"base":140,"policy":145},
    {"district":"Spandau","date":"2020-10-28","rki":220,"base":175,"policy":175},
    {"district":"Spandau","date":"2020-11-04","rki":235,"base":200,"policy":200},
    {"district":"Spandau","date":"2020-11-11","rki":250,"base":230,"policy":230},
    {"district":"Spandau","date":"2020-11-18","rki":313,"base":290,"policy":290},
    {"district":"Spandau","date":"2020-11-25","rki":290,"base":285,"policy":280},
    {"district":"Spandau","date":"2020-12-02","rki":333,"base":310,"policy":305},
    {"district":"Spandau","date":"2020-12-09","rki":225,"base":340,"policy":335},
    {"district":"Spandau","date":"2020-12-16","rki":294,"base":365,"policy":360},
    {"district":"Spandau","date":"2020-12-19","rki":250,"base":370,"policy":362},
    {"district":"Spandau","date":"2020-12-23","rki":210,"base":340,"policy":330},
    {"district":"Spandau","date":"2020-12-30","rki":304,"base":290,"policy":280},
    {"district":"Spandau","date":"2021-01-06","rki":179,"base":245,"policy":240},
    {"district":"Spandau","date":"2021-01-13","rki":112,"base":215,"policy":205},
    {"district":"Spandau","date":"2021-01-20","rki":90,"base":180,"policy":175},
    {"district":"Spandau","date":"2021-01-27","rki":80,"base":160,"policy":150},
    {"district":"Spandau","date":"2021-02-03","rki":75,"base":140,"policy":135},
    {"district":"Spandau","date":"2021-02-10","rki":65,"base":125,"policy":120},
    {"district":"Spandau","date":"2021-02-17","rki":63,"base":112,"policy":105},

    {"district":"Steglitz_Zehlendorf","date":"2020-02-26","rki":0,"base":0,"policy":0},
    {"district":"Steglitz_Zehlendorf","date":"2020-03-04","rki":2,"base":3,"policy":3},
    {"district":"Steglitz_Zehlendorf","date":"2020-03-11","rki":10,"base":35,"policy":35},
    {"district":"Steglitz_Zehlendorf","date":"2020-03-18","rki":18,"base":120,"policy":120},
    {"district":"Steglitz_Zehlendorf","date":"2020-03-25","rki":25,"base":158,"policy":164},
    {"district":"Steglitz_Zehlendorf","date":"2020-04-01","rki":52,"base":145,"policy":150},
    {"district":"Steglitz_Zehlendorf","date":"2020-04-08","rki":25,"base":125,"policy":125},
    {"district":"Steglitz_Zehlendorf","date":"2020-04-15","rki":15,"base":100,"policy":100},
    {"district":"Steglitz_Zehlendorf","date":"2020-04-22","rki":12,"base":80,"policy":78},
    {"district":"Steglitz_Zehlendorf","date":"2020-04-29","rki":10,"base":55,"policy":52},
    {"district":"Steglitz_Zehlendorf","date":"2020-05-06","rki":8,"base":45,"policy":44},
    {"district":"Steglitz_Zehlendorf","date":"2020-05-20","rki":6,"base":38,"policy":35},
    {"district":"Steglitz_Zehlendorf","date":"2020-06-03","rki":5,"base":25,"policy":25},
    {"district":"Steglitz_Zehlendorf","date":"2020-06-17","rki":5,"base":18,"policy":18},
    {"district":"Steglitz_Zehlendorf","date":"2020-07-01","rki":5,"base":12,"policy":12},
    {"district":"Steglitz_Zehlendorf","date":"2020-07-15","rki":4,"base":10,"policy":10},
    {"district":"Steglitz_Zehlendorf","date":"2020-07-29","rki":5,"base":8,"policy":8},
    {"district":"Steglitz_Zehlendorf","date":"2020-08-12","rki":10,"base":10,"policy":10},
    {"district":"Steglitz_Zehlendorf","date":"2020-08-26","rki":15,"base":12,"policy":12},
    {"district":"Steglitz_Zehlendorf","date":"2020-09-09","rki":12,"base":18,"policy":18},
    {"district":"Steglitz_Zehlendorf","date":"2020-09-23","rki":20,"base":28,"policy":28},
    {"district":"Steglitz_Zehlendorf","date":"2020-10-07","rki":30,"base":50,"policy":48},
    {"district":"Steglitz_Zehlendorf","date":"2020-10-14","rki":70,"base":85,"policy":80},
    {"district":"Steglitz_Zehlendorf","date":"2020-10-21","rki":100,"base":120,"policy":115},
    {"district":"Steglitz_Zehlendorf","date":"2020-10-28","rki":170,"base":145,"policy":140},
    {"district":"Steglitz_Zehlendorf","date":"2020-11-04","rki":140,"base":180,"policy":170},
    {"district":"Steglitz_Zehlendorf","date":"2020-11-11","rki":270,"base":235,"policy":210},
    {"district":"Steglitz_Zehlendorf","date":"2020-11-18","rki":190,"base":255,"policy":225},
    {"district":"Steglitz_Zehlendorf","date":"2020-11-25","rki":200,"base":250,"policy":222},
    {"district":"Steglitz_Zehlendorf","date":"2020-12-02","rki":240,"base":245,"policy":225},
    {"district":"Steglitz_Zehlendorf","date":"2020-12-09","rki":220,"base":280,"policy":270},
    {"district":"Steglitz_Zehlendorf","date":"2020-12-16","rki":242,"base":320,"policy":305},
    {"district":"Steglitz_Zehlendorf","date":"2020-12-19","rki":210,"base":322,"policy":309},
    {"district":"Steglitz_Zehlendorf","date":"2020-12-23","rki":165,"base":300,"policy":285},
    {"district":"Steglitz_Zehlendorf","date":"2020-12-30","rki":130,"base":250,"policy":232},
    {"district":"Steglitz_Zehlendorf","date":"2021-01-06","rki":150,"base":215,"policy":200},
    {"district":"Steglitz_Zehlendorf","date":"2021-01-13","rki":110,"base":190,"policy":175},
    {"district":"Steglitz_Zehlendorf","date":"2021-01-20","rki":75,"base":175,"policy":155},
    {"district":"Steglitz_Zehlendorf","date":"2021-01-27","rki":58,"base":160,"policy":145},
    {"district":"Steglitz_Zehlendorf","date":"2021-02-03","rki":48,"base":140,"policy":125},
    {"district":"Steglitz_Zehlendorf","date":"2021-02-10","rki":40,"base":125,"policy":110},
    {"district":"Steglitz_Zehlendorf","date":"2021-02-17","rki":38,"base":115,"policy":100},

    {"district":"Tempelhof_Schoeneberg","date":"2020-02-26","rki":0,"base":0,"policy":0},
    {"district":"Tempelhof_Schoeneberg","date":"2020-03-04","rki":2,"base":4,"policy":4},
    {"district":"Tempelhof_Schoeneberg","date":"2020-03-11","rki":8,"base":40,"policy":40},
    {"district":"Tempelhof_Schoeneberg","date":"2020-03-18","rki":25,"base":120,"policy":120},
    {"district":"Tempelhof_Schoeneberg","date":"2020-03-25","rki":45,"base":160,"policy":162},
    {"district":"Tempelhof_Schoeneberg","date":"2020-04-01","rki":52,"base":158,"policy":160},
    {"district":"Tempelhof_Schoeneberg","date":"2020-04-08","rki":40,"base":130,"policy":130},
    {"district":"Tempelhof_Schoeneberg","date":"2020-04-15","rki":28,"base":110,"policy":110},
    {"district":"Tempelhof_Schoeneberg","date":"2020-04-22","rki":20,"base":80,"policy":80},
    {"district":"Tempelhof_Schoeneberg","date":"2020-04-29","rki":15,"base":60,"policy":60},
    {"district":"Tempelhof_Schoeneberg","date":"2020-05-06","rki":12,"base":50,"policy":50},
    {"district":"Tempelhof_Schoeneberg","date":"2020-05-20","rki":10,"base":45,"policy":45},
    {"district":"Tempelhof_Schoeneberg","date":"2020-06-03","rki":8,"base":35,"policy":35},
    {"district":"Tempelhof_Schoeneberg","date":"2020-06-17","rki":6,"base":28,"policy":28},
    {"district":"Tempelhof_Schoeneberg","date":"2020-07-01","rki":5,"base":18,"policy":18},
    {"district":"Tempelhof_Schoeneberg","date":"2020-07-15","rki":5,"base":10,"policy":10},
    {"district":"Tempelhof_Schoeneberg","date":"2020-07-29","rki":5,"base":7,"policy":7},
    {"district":"Tempelhof_Schoeneberg","date":"2020-08-12","rki":8,"base":7,"policy":7},
    {"district":"Tempelhof_Schoeneberg","date":"2020-08-26","rki":12,"base":12,"policy":12},
    {"district":"Tempelhof_Schoeneberg","date":"2020-09-09","rki":18,"base":18,"policy":18},
    {"district":"Tempelhof_Schoeneberg","date":"2020-09-23","rki":28,"base":30,"policy":30},
    {"district":"Tempelhof_Schoeneberg","date":"2020-10-07","rki":60,"base":50,"policy":50},
    {"district":"Tempelhof_Schoeneberg","date":"2020-10-14","rki":120,"base":75,"policy":75},
    {"district":"Tempelhof_Schoeneberg","date":"2020-10-21","rki":170,"base":105,"policy":105},
    {"district":"Tempelhof_Schoeneberg","date":"2020-10-28","rki":165,"base":140,"policy":140},
    {"district":"Tempelhof_Schoeneberg","date":"2020-11-04","rki":280,"base":175,"policy":175},
    {"district":"Tempelhof_Schoeneberg","date":"2020-11-11","rki":290,"base":210,"policy":210},
    {"district":"Tempelhof_Schoeneberg","date":"2020-11-18","rki":255,"base":230,"policy":230},
    {"district":"Tempelhof_Schoeneberg","date":"2020-11-25","rki":290,"base":245,"policy":245},
    {"district":"Tempelhof_Schoeneberg","date":"2020-12-02","rki":195,"base":250,"policy":250},
    {"district":"Tempelhof_Schoeneberg","date":"2020-12-09","rki":200,"base":275,"policy":275},
    {"district":"Tempelhof_Schoeneberg","date":"2020-12-16","rki":235,"base":310,"policy":310},
    {"district":"Tempelhof_Schoeneberg","date":"2020-12-19","rki":260,"base":325,"policy":329},
    {"district":"Tempelhof_Schoeneberg","date":"2020-12-23","rki":230,"base":305,"policy":310},
    {"district":"Tempelhof_Schoeneberg","date":"2020-12-30","rki":190,"base":255,"policy":255},
    {"district":"Tempelhof_Schoeneberg","date":"2021-01-06","rki":150,"base":225,"policy":220},
    {"district":"Tempelhof_Schoeneberg","date":"2021-01-13","rki":190,"base":195,"policy":190},
    {"district":"Tempelhof_Schoeneberg","date":"2021-01-20","rki":100,"base":175,"policy":170},
    {"district":"Tempelhof_Schoeneberg","date":"2021-01-27","rki":80,"base":150,"policy":150},
    {"district":"Tempelhof_Schoeneberg","date":"2021-02-03","rki":65,"base":135,"policy":135},
    {"district":"Tempelhof_Schoeneberg","date":"2021-02-10","rki":55,"base":120,"policy":115},
    {"district":"Tempelhof_Schoeneberg","date":"2021-02-17","rki":48,"base":108,"policy":106},

    {"district":"Treptow_Koepenick","date":"2020-02-26","rki":0,"base":0,"policy":0},
    {"district":"Treptow_Koepenick","date":"2020-03-04","rki":1,"base":3,"policy":3},
    {"district":"Treptow_Koepenick","date":"2020-03-11","rki":5,"base":35,"policy":35},
    {"district":"Treptow_Koepenick","date":"2020-03-18","rki":15,"base":120,"policy":120},
    {"district":"Treptow_Koepenick","date":"2020-03-25","rki":28,"base":152,"policy":154},
    {"district":"Treptow_Koepenick","date":"2020-04-01","rki":28,"base":145,"policy":145},
    {"district":"Treptow_Koepenick","date":"2020-04-08","rki":18,"base":120,"policy":120},
    {"district":"Treptow_Koepenick","date":"2020-04-15","rki":15,"base":95,"policy":95},
    {"district":"Treptow_Koepenick","date":"2020-04-22","rki":12,"base":75,"policy":75},
    {"district":"Treptow_Koepenick","date":"2020-04-29","rki":10,"base":58,"policy":58},
    {"district":"Treptow_Koepenick","date":"2020-05-06","rki":8,"base":50,"policy":50},
    {"district":"Treptow_Koepenick","date":"2020-05-20","rki":6,"base":40,"policy":40},
    {"district":"Treptow_Koepenick","date":"2020-06-03","rki":5,"base":30,"policy":30},
    {"district":"Treptow_Koepenick","date":"2020-06-17","rki":4,"base":22,"policy":22},
    {"district":"Treptow_Koepenick","date":"2020-07-01","rki":4,"base":12,"policy":12},
    {"district":"Treptow_Koepenick","date":"2020-07-15","rki":3,"base":8,"policy":8},
    {"district":"Treptow_Koepenick","date":"2020-07-29","rki":3,"base":6,"policy":6},
    {"district":"Treptow_Koepenick","date":"2020-08-12","rki":5,"base":7,"policy":7},
    {"district":"Treptow_Koepenick","date":"2020-08-26","rki":6,"base":10,"policy":10},
    {"district":"Treptow_Koepenick","date":"2020-09-09","rki":8,"base":25,"policy":25},
    {"district":"Treptow_Koepenick","date":"2020-09-23","rki":15,"base":38,"policy":38},
    {"district":"Treptow_Koepenick","date":"2020-10-07","rki":30,"base":55,"policy":55},
    {"district":"Treptow_Koepenick","date":"2020-10-14","rki":40,"base":100,"policy":100},
    {"district":"Treptow_Koepenick","date":"2020-10-21","rki":70,"base":140,"policy":140},
    {"district":"Treptow_Koepenick","date":"2020-10-28","rki":80,"base":165,"policy":165},
    {"district":"Treptow_Koepenick","date":"2020-11-04","rki":110,"base":200,"policy":200},
    {"district":"Treptow_Koepenick","date":"2020-11-11","rki":150,"base":230,"policy":230},
    {"district":"Treptow_Koepenick","date":"2020-11-18","rki":165,"base":260,"policy":260},
    {"district":"Treptow_Koepenick","date":"2020-11-25","rki":120,"base":255,"policy":255},
    {"district":"Treptow_Koepenick","date":"2020-12-02","rki":200,"base":245,"policy":245},
    {"district":"Treptow_Koepenick","date":"2020-12-09","rki":203,"base":270,"policy":270},
    {"district":"Treptow_Koepenick","date":"2020-12-16","rki":213,"base":315,"policy":315},
    {"district":"Treptow_Koepenick","date":"2020-12-19","rki":205,"base":323,"policy":323},
    {"district":"Treptow_Koepenick","date":"2020-12-23","rki":190,"base":300,"policy":300},
    {"district":"Treptow_Koepenick","date":"2020-12-30","rki":80,"base":260,"policy":260},
    {"district":"Treptow_Koepenick","date":"2021-01-06","rki":255,"base":232,"policy":230},
    {"district":"Treptow_Koepenick","date":"2021-01-13","rki":222,"base":212,"policy":210},
    {"district":"Treptow_Koepenick","date":"2021-01-20","rki":140,"base":190,"policy":184},
    {"district":"Treptow_Koepenick","date":"2021-01-27","rki":90,"base":175,"policy":170},
    {"district":"Treptow_Koepenick","date":"2021-02-03","rki":70,"base":160,"policy":155},
    {"district":"Treptow_Koepenick","date":"2021-02-10","rki":65,"base":140,"policy":135},
    {"district":"Treptow_Koepenick","date":"2021-02-17","rki":64,"base":118,"policy":110}
  ]},
  "transform": [
    {"fold": ["rki", "base", "policy"], "as": ["Scenario", "value"]},
    {"filter": "isValid(datum.value)"}
  ],
  "vconcat": [
    {
      "title": {"text": "Date", "orient": "bottom", "anchor": "middle", "offset": 5, "dx": 42},
      "vconcat": [
        {
          "title": {"text": "7–Day Infections / 100k Pop.", "orient": "left", "anchor": "middle", "offset": 8, "dx": 22},
          "facet": {"field": "district", "type": "nominal", "header": {"title": null}},
          "columns": 3,
          "spacing": {"row": 17, "column": 14},
          "spec": {
            "width": 256,
            "height": 78,
            "layer": [
              {
                "mark": {"type": "line", "opacity": 0},
                "encoding": {
                  "x": {
                    "field": "date",
                    "type": "temporal",
                    "scale": {
                      "type": "utc",
                      "domain": [
                        {"year": 2020, "month": 2, "date": 8, "utc": true},
                        {"year": 2021, "month": 3, "date": 7, "utc": true}
                      ]
                    },
                    "axis": {
                      "title": null,
                      "orient": "top",
                      "labels": false,
                      "gridWidth": 0.65,
                      "values": [
                        {"year": 2020, "month": 3, "date": 1, "utc": true},
                        {"year": 2020, "month": 5, "date": 1, "utc": true},
                        {"year": 2020, "month": 7, "date": 1, "utc": true},
                        {"year": 2020, "month": 9, "date": 1, "utc": true},
                        {"year": 2020, "month": 11, "date": 1, "utc": true},
                        {"year": 2021, "month": 1, "date": 1, "utc": true},
                        {"year": 2021, "month": 3, "date": 1, "utc": true}
                      ]
                    }
                  },
                  "y": {
                    "field": "value",
                    "type": "quantitative",
                    "scale": {"domain": [-20, 426], "nice": false, "zero": false},
                    "axis": {"title": null, "orient": "right", "labels": false, "gridWidth": 0.65, "values": [50, 150, 250, 350]}
                  }
                }
              },
              {
                "mark": {"type": "line", "strokeJoin": "round", "clip": true},
                "encoding": {
                  "x": {
                    "field": "date",
                    "type": "temporal",
                    "axis": {
                      "title": null,
                      "orient": "bottom",
                      "values": [
                        {"year": 2020, "month": 4, "date": 1, "utc": true},
                        {"year": 2020, "month": 6, "date": 1, "utc": true},
                        {"year": 2020, "month": 8, "date": 1, "utc": true},
                        {"year": 2020, "month": 10, "date": 1, "utc": true},
                        {"year": 2020, "month": 12, "date": 1, "utc": true},
                        {"year": 2021, "month": 2, "date": 1, "utc": true}
                      ],
                      "labelExpr": "utcFormat(datum.value, '%b–%y')",
                      "labelFontSize": 14.5,
                      "labelAngle": -45,
                      "labelAlign": "right",
                      "labelBaseline": "top",
                      "labelPadding": 16,
                      "gridWidth": 1.3
                    }
                  },
                  "y": {
                    "field": "value",
                    "type": "quantitative",
                    "axis": {
                      "title": null,
                      "orient": "left",
                      "values": [0, 100, 200, 300, 400],
                      "labelPadding": 6,
                      "gridWidth": 1.3
                    }
                  },
                  "color": {
                    "field": "Scenario",
                    "type": "nominal",
                    "scale": {"domain": ["rki", "base", "policy"], "range": ["#000000", "#0000FF", "#FF0000"]},
                    "legend": {
                      "title": "Scenario",
                      "orient": "none",
                      "direction": "horizontal",
                      "titleOrient": "left",
                      "titleBaseline": "middle",
                      "titlePadding": 21,
                      "columns": 3,
                      "gridAlign": "all",
                      "columnPadding": 8,
                      "legendX": 230,
                      "legendY": 575
                    }
                  },
                  "strokeWidth": {"condition": {"test": "datum.Scenario === 'rki'", "value": 1.3}, "value": 2}
                }
              }
            ],
            "resolve": {"axis": {"x": "independent", "y": "independent"}}
          }
        }
      ]
    }
  ]
}
